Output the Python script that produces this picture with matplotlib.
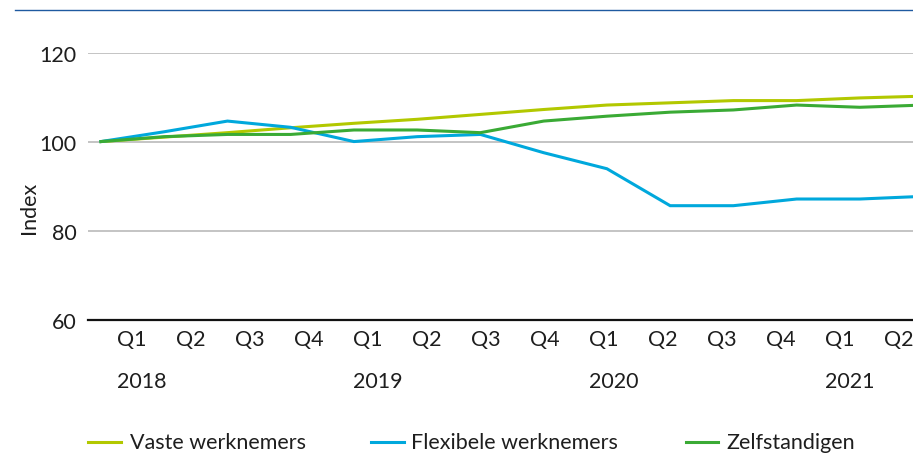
import matplotlib.pyplot as plt
from matplotlib.lines import Line2D

plt.rcParams['font.family'] = ['Lato', 'DejaVu Sans']

# data, index 2018 Q1 = 100
quarters = ['Q1', 'Q2', 'Q3', 'Q4'] * 3 + ['Q1', 'Q2']
years = ['2018', '2019', '2020', '2021']
vaste = [100, 101.0, 102.0, 103.1, 104.1, 105.0, 106.1, 107.2, 108.2, 108.7, 109.2, 109.2, 109.8, 110.2]
flexibel = [100, 102.2, 104.6, 103.2, 100.0, 101.1, 101.6, 97.5, 93.9, 85.6, 85.6, 87.1, 87.1, 87.7]
zelfstandig = [100, 101.1, 101.6, 101.6, 102.6, 102.6, 102.0, 104.6, 105.7, 106.6, 107.1, 108.2, 107.7, 108.2]

names = ['Vaste werknemers', 'Flexibele werknemers', 'Zelfstandigen']
colors = ['#b2c800', '#00a8dc', '#3aaa35']
series = [vaste, flexibel, zelfstandig]

FS = 15.5
TXT = '#1e1e1e'

W, H = 913, 456
fig = plt.figure(figsize=(W / 100, H / 100), dpi=100)
ax = fig.add_axes([88 / W, (H - 320.7) / H, 825 / W, 267.2 / H])

x = list(range(len(vaste)))
for s, c in zip(series, colors):
    ax.plot(x, s, color=c, lw=2.2, solid_joinstyle='miter')

ax.set_xlim(-0.205, 12.84)
ax.set_ylim(60, 120)
ax.set_yticks([60, 80, 100, 120])
ax.yaxis.grid(True, color='#c4c4c4', lw=1.4)
ax.set_axisbelow(True)
for sp in ['top', 'right', 'left']:
    ax.spines[sp].set_visible(False)
ax.spines['bottom'].set_linewidth(1.6)
ax.spines['bottom'].set_color('#111111')
ax.spines['bottom'].set_zorder(5)
ax.set_xticks([])
ax.tick_params(axis='y', length=0, pad=8, labelsize=FS, labelcolor=TXT)

# quarter and year labels, left aligned on the middle of each slot
n = len(quarters)
for k, q in enumerate(quarters):
    ax.text((k + 0.5) / n, -0.072, q, transform=ax.transAxes, ha='left', va='center',
            fontsize=FS, color=TXT)
for j, yr in enumerate(years):
    ax.text((4 * j + 0.5) / n, -0.228, yr, transform=ax.transAxes, ha='left', va='center',
            fontsize=FS, color=TXT)

fig.text(29 / W, 1 - 208 / H, 'Index', rotation=90, ha='center', va='center',
         fontsize=FS, color=TXT)

# top rule
fig.add_artist(Line2D([15 / W, 1], [1 - 11 / H, 1 - 11 / H], color='#1f5aa0', lw=1.0))

# legend, drawn by hand
leg_y = 1 - 443 / H
leg_x = [(88, 121, 130), (371, 404, 411), (686, 718, 726)]
for (a, b, t), name, c in zip(leg_x, names, colors):
    fig.add_artist(Line2D([a / W, b / W], [leg_y, leg_y], color=c, lw=2.2))
    fig.text(t / W, leg_y, name, ha='left', va='center', fontsize=FS, color=TXT)

fig.savefig('out.png', dpi=100)
